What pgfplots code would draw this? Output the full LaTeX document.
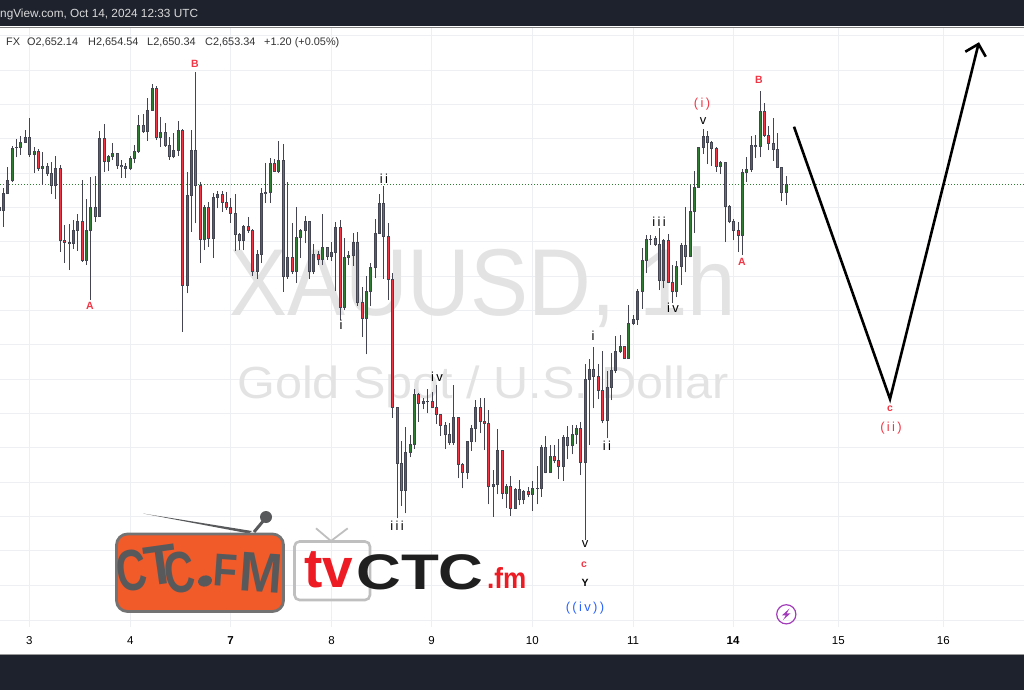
\documentclass[border=0pt]{standalone}
\usepackage{fontspec}
\setmainfont{Liberation Sans}
\newfontfamily\wavef[LetterSpace=18]{Liberation Sans}
\usepackage{pgfplots}
\usepackage{pgfplotstable}
\pgfplotsset{compat=1.18}
\definecolor{band}{HTML}{1E222D}
\definecolor{gridc}{HTML}{EEEFF2}
\definecolor{wick}{HTML}{434651}
\definecolor{upc}{HTML}{2E7D32}
\definecolor{downc}{HTML}{F23645}
\definecolor{wave}{HTML}{E3E3E3}
\definecolor{orangeL}{HTML}{F15A29}
\definecolor{logoG}{HTML}{58595B}
\definecolor{tvred}{HTML}{ED1C24}
\definecolor{boltc}{HTML}{A23CBA}
\definecolor{bluew}{HTML}{2962FF}

% i, body top, body bottom, high, low (pixel rows), d=1 up candle
\pgfplotstableread{
i top bot hi lo d
0 207.7 210.7 205 212 1
1 193.3 210.7 188.3 226.7 1
2 180.3 193.7 167.3 194 1
3 148.3 181 146 182.3 1
4 147.3 147.7 139.3 157.3 1
5 142.3 147.7 136 154.7 1
6 137.3 142.7 130 142.7 1
7 137.3 154.7 118 156.7 0
8 151.3 154.7 146.7 172.7 1
9 151.3 168.7 148.7 170.7 0
10 166.3 168.7 152 184.7 1
11 166.3 174 163.3 175.7 0
12 173.3 185.7 162 194 0
13 168.3 185.7 156 198.7 1
14 168.3 240.7 165 251.7 0
15 240.3 242.3 225 262.7 0
16 242.3 243.7 224.3 270 1
17 230.3 243.7 220 248.7 1
18 221.3 230.7 214 250.7 1
19 221.3 260.7 180 261.7 0
20 230.3 260.7 199.3 265 1
21 207.3 230.7 177.3 300 1
22 207.3 216.7 176 222 0
23 138.3 216.7 131 216.7 1
24 138.3 161.7 124 171.7 0
25 156.3 161.7 155 171 1
26 153.3 156.7 143.3 160 1
27 153.3 166 153.3 168.7 0
28 165.3 166.7 160 177.7 0
29 166.3 168.7 162.7 177.7 0
30 158.3 168.7 156 170 1
31 151.3 158.7 145 163.3 1
32 125.3 151.7 115.3 152.7 1
33 125.3 132 114.3 132.7 0
34 110.3 132 98 140.7 1
35 88.3 110.7 84.3 110.7 1
36 88.3 137.7 86 140 0
37 132.3 137.7 116.7 146.7 1
38 132.3 145.7 123.3 146.7 0
39 145.3 156.7 137.3 159.7 0
40 150.3 156.7 133.3 158.3 1
41 130.3 150.3 121.3 156 1
42 130.3 285.3 129.3 331.7 0
43 195.3 285.3 171.7 293.3 1
44 150.3 195.3 130 231.7 1
45 150.3 185.3 72 223.3 0
46 185.3 239.3 181.7 262.7 0
47 207.3 240 205 250 1
48 207.3 238.7 201.7 246.7 0
49 197.3 238.7 193.3 258 1
50 194.3 197.7 191 208.3 1
51 194.3 202.3 190.7 211.7 0
52 202.3 207.7 191.7 210 0
53 207.3 213.3 198 222.7 0
54 213.3 234.3 194 250.7 0
55 234.3 240.7 233.3 250 0
56 226 240.7 225 250 1
57 226 230.3 216.7 232.7 0
58 230.3 271.7 229.3 276 0
59 254.3 271.7 250 278.7 1
60 193.3 254.7 188.3 262.7 1
61 192 193.3 162.7 202.7 1
62 163.3 192.7 158 202.7 1
63 163.3 171.3 159.3 171.7 0
64 160.3 171.7 141 172.7 1
65 160.3 276.7 144 291.7 0
66 257 276.7 182.3 278.7 1
67 257 271.7 223.3 274 0
68 237.3 271.7 207.3 282.7 1
69 230.3 237.7 229 257.7 1
70 221.3 230.3 216 243.3 1
71 221.3 271.7 221.3 278.7 0
72 254.3 271.7 244.3 274 1
73 254.3 259.7 250.7 265 0
74 247.3 259.7 214 265 1
75 247.3 256.7 246.7 260 0
76 252.3 256.7 241.7 260.7 1
77 227.3 252.3 221.7 290.7 1
78 227.3 307.3 220 320 0
79 257 307.3 238.3 310 1
80 255.3 257.7 251.3 265 1
81 242.3 255.7 233.3 265.7 1
82 242.3 302.7 231.7 305.7 0
83 302.3 318.3 287.3 336.7 0
84 291.3 318.7 276 354.3 1
85 267.3 291.7 262.7 306 1
86 233.3 267.7 219.3 278 1
87 203.3 233.7 194 234 1
88 203.3 236.7 186 278.7 0
89 236.3 279.3 223.3 300 0
90 279.3 407.7 273.3 417.7 0
91 407 463.3 406.7 518.3 0
92 463.3 490.3 441 505.7 0
93 452.3 490.3 427.3 513.3 1
94 444.3 452.3 435 457.3 1
95 394.3 444.7 389 448.7 1
96 394.3 403.7 392.7 421.7 0
97 401 403.7 398.3 409.3 1
98 401.3 402 389 413.3 1
99 401 407.3 392.3 408.3 0
100 407.3 414.3 385 424 0
101 414.3 425.3 414 435.7 0
102 425 434.7 421.7 448.7 0
103 434.3 442.7 423.3 444.7 0
104 417.3 442.7 385 445 1
105 417.3 464.3 417.3 478.3 0
106 464.3 472.7 463.3 488.3 0
107 441.3 472.7 440.7 479.3 1
108 428.3 441.7 425 450.7 1
109 407.3 428.7 400 442.3 1
110 407.3 421.7 397.7 433.3 0
111 421.3 423.3 398.3 450 0
112 423.3 486.7 410 504.3 0
113 484.3 486.7 470 516.7 1
114 450.3 484.7 429.3 494.3 1
115 450.3 493.3 450 499.3 0
116 486 493.7 484 507.7 1
117 486.3 508.3 476 515.7 0
118 489 508.3 488.3 508.3 1
119 489.3 499.7 480 505.3 0
120 491 499.7 490 504.3 1
121 491.3 494.7 487.3 497.3 0
122 488 494.7 480.7 510.7 1
123 488 488.3 466 504.3 1
124 447.3 489 445.3 496.7 1
125 447.3 472.7 436.3 473.3 0
126 456.3 472.7 445 472.7 1
127 456.3 460.7 445 463.3 0
128 460.7 466.7 439 479 0
129 437.3 466.7 435 480.7 1
130 437.3 446 426 459.3 0
131 434.3 446 425 454.3 1
132 428.3 434.7 425 444 1
133 428.3 462.7 421.7 475 0
134 379.3 462.7 364 540 1
135 369.3 379.7 359 445 1
136 369.3 376.7 347 408.3 0
137 376.7 390.7 364 399.3 0
138 390.7 421 351 423.3 0
139 387.3 421 370.7 438.3 1
140 370.3 387.7 353 400 1
141 351.3 371 336 373.3 1
142 346 352 335 353 1
143 346 358.7 346 359 0
144 323.3 358.7 305 359 1
145 319.3 323.7 315 325 1
146 291 319.7 289.3 325 1
147 260.3 291.3 248.3 308.7 1
148 239.3 260.3 235 272.7 1
149 239.3 240 235 245 1
150 238.3 244.3 235.7 245.7 0
151 244.3 280.7 228 290 0
152 240.3 280.7 239 288.3 1
153 240.3 282.3 234 283.3 0
154 282.3 291.7 265 302.7 0
155 266.3 291.7 261 297.3 1
156 245 266.3 243.3 285 1
157 245 256.7 207 272.3 0
158 211.3 256.7 185 257.3 1
159 187.3 211.7 171 232.7 1
160 147.3 187.3 147 187.5 1
161 136 147.7 129.3 154 1
162 136 142.7 131 164 0
163 142 148.7 140.7 166 0
164 148.3 166.7 147.3 171.7 0
165 162.3 166.7 160.7 174 1
166 162.3 206.3 161.7 242 0
167 206.3 221.7 205 223.3 0
168 221.3 230.7 219.3 240 0
169 230.3 235.7 222 252 0
170 172.3 235.7 169 255 1
171 169.3 172.7 157.3 181.7 1
172 145.3 169.7 136 171.7 1
173 145.3 146.7 135 158.3 1
174 111.3 146.7 91 157.3 1
175 111.3 135.3 103.3 136.7 0
176 135.3 143.3 125.7 150 0
177 143.3 149.3 118.3 160.7 0
178 149.3 167.3 133.3 167.7 0
179 167.3 192.3 167.3 201 0
180 184.3 192.7 176 204.7 1
}\candles

\newcommand{\fs}[1]{\fontsize{#1}{#1}\selectfont}
\tikzset{
  wv/.style={font=\fs{13}\wavef, text=black, inner sep=0pt},
  wvr/.style={font=\fs{13}\wavef, text=downc, inner sep=0pt},
  ltr/.style={font=\fs{10.5}\bfseries, text=downc, inner sep=0pt},
  hd/.style={anchor=base west, inner sep=0pt, font=\fs{10.9}, text=black!80},
  lg/.style={inner sep=0pt, text=logoG, font=\fs{#1}\bfseries},
  vgrid/.style={gridc, line width=0.9pt},
}
\pgfplotsset{
  wickbars/.style={draw=none, mark=none, forget plot,
    error bars/.cd, y dir=both, y explicit, error mark=none,
    error bar style={solid, line width=#1}},
}
\newcommand{\xpos}{floor(3.4+4.374*(\thisrow{i}-1))+0.5}

\begin{document}
\begin{tikzpicture}
\begin{axis}[
  name=ax,
  scale only axis, width=1024pt, height=690pt,
  xmin=0, xmax=1024, ymin=0, ymax=690, y dir=reverse,
  axis line style={draw=none}, tick style={draw=none},
  ymajorgrids, grid style={gridc, line width=0.9pt},
  xtick={29.3,130.3,230.5,331.5,431.5,532.3,633,733,838.3,943.3},
  xticklabels={3,4,\textbf{7},8,9,10,11,\textbf{14},15,16},
  xticklabel pos=upper,
  xticklabel style={anchor=center, yshift=-641pt, font=\fs{11.5}, text=black},
  ytick={35.6,70,104.3,138.7,173,207.3,241.7,276,310.4,344.7,379,413.4,447.8,482.1,516.5,550.9,585.6,620},
  yticklabels={},
]
% day grid stops above the time scale
\draw[vgrid] (axis cs:29.3,27) -- (axis cs:29.3,627);
\draw[vgrid] (axis cs:130.3,27) -- (axis cs:130.3,627);
\draw[vgrid] (axis cs:230.5,27) -- (axis cs:230.5,627);
\draw[vgrid] (axis cs:331.5,27) -- (axis cs:331.5,627);
\draw[vgrid] (axis cs:431.5,27) -- (axis cs:431.5,627);
\draw[vgrid] (axis cs:532.3,27) -- (axis cs:532.3,627);
\draw[vgrid] (axis cs:633,27) -- (axis cs:633,627);
\draw[vgrid] (axis cs:733,27) -- (axis cs:733,627);
\draw[vgrid] (axis cs:838.3,27) -- (axis cs:838.3,627);
\draw[vgrid] (axis cs:943.3,27) -- (axis cs:943.3,627);

% watermark
\node[anchor=base west, inner sep=0pt, text=wave, font=\fs{95}, xscale=0.915] at (axis cs:229,315) {XAUUSD, 1h};
\node[anchor=base west, inner sep=0pt, text=wave, font=\fs{45}, xscale=1.08] at (axis cs:237,398) {Gold Spot / U.S. Dollar};

% frame bands
\fill[band] (axis cs:0,0) rectangle (axis cs:1024,26.5);
\fill[band] (axis cs:0,655) rectangle (axis cs:1024,690);
\draw[gray, line width=0.8pt] (axis cs:0,27) -- (axis cs:1024,27);
\draw[gray!80, line width=1pt] (axis cs:0,654.6) -- (axis cs:1024,654.6);

% last price line
\addplot[upc, line width=1pt, dash pattern=on 1pt off 2pt, forget plot] coordinates {(0,184.5) (1024,184.5)};

% candles: wick, then body outline, then the fill by direction
\addplot[wickbars={1pt, wick}] table[x expr=\xpos, y=lo, y error plus expr=0, y error minus expr={\thisrow{lo}-\thisrow{hi}}] {\candles};
\addplot[wickbars={3.5pt, wick}] table[x expr=\xpos, y expr=\thisrow{bot}+0.3, y error plus expr=0, y error minus expr={\thisrow{bot}-\thisrow{top}+0.6}] {\candles};
\addplot[wickbars={1.9pt, upc}] table[x expr=\xpos, y expr=\thisrow{bot}-0.6, y error plus expr=0, y error minus expr={\thisrow{d}*max(0,\thisrow{bot}-\thisrow{top}-1.2)}] {\candles};
\addplot[wickbars={1.9pt, downc}] table[x expr=\xpos, y expr=\thisrow{bot}-0.6, y error plus expr=0, y error minus expr={(1-\thisrow{d})*max(0,\thisrow{bot}-\thisrow{top}-1.2)}] {\candles};

% projected path
\addplot[black, line width=2.6pt, line join=miter, forget plot] coordinates {(794,126.7) (890,399) (978.5,44)};
\addplot[black, line width=2.6pt, line join=miter, forget plot] coordinates {(965.3,51.7) (978.5,44) (985.7,56.7)};

% wave labels
\node[ltr] at (axis cs:90,306) {A};
\node[ltr] at (axis cs:195,64) {B};
\node[ltr] at (axis cs:759,80) {B};
\node[ltr] at (axis cs:742,262) {A};
\node[ltr] at (axis cs:584,565) {c};
\node[ltr] at (axis cs:890,409) {c};
\node[wv] at (axis cs:341,325) {i};
\node[wv] at (axis cs:384,179) {ii};
\node[wv] at (axis cs:397,526) {iii};
\node[wv] at (axis cs:437,377) {iv};
\node[wv] at (axis cs:659,222) {iii};
\node[wv] at (axis cs:673,308) {iv};
\node[wv] at (axis cs:593,336) {i};
\node[wv] at (axis cs:607,446) {ii};
\node[wv] at (axis cs:703,121) {v};
\node[wv] at (axis cs:585,544) {v};
\node[wvr] at (axis cs:702,104) {(i)};
\node[wvr] at (axis cs:891,428) {(ii)};
\node[inner sep=0pt, font=\fs{10.5}\bfseries, text=black] at (axis cs:585,583) {Y};
\node[wv, text=bluew] at (axis cs:585,608) {((iv))};

% header and legend text
\node[anchor=base west, inner sep=0pt, font=\fs{11.8}, text=black!15] at (axis cs:0,18) {ngView.com, Oct 14, 2024 12:33 UTC};
\node[hd] at (axis cs:6,46) {FX};
\node[hd] at (axis cs:27,46) {O2,652.14};
\node[hd] at (axis cs:88,46) {H2,654.54};
\node[hd] at (axis cs:147,46) {L2,650.34};
\node[hd] at (axis cs:205,46) {C2,653.34};
\node[hd] at (axis cs:264,46) {+1.20 (+0.05\%)};

% logo left
\fill[logoG] (axis cs:143,513.5) -- (axis cs:252,531) -- (axis cs:249,533.5) -- cycle;
\draw[logoG, line width=3pt] (axis cs:254,532) -- (axis cs:264,520);
\fill[logoG] (axis cs:266,517) circle[radius=6pt];
\draw[draw=gray!90!black, fill=orangeL, line width=2.8pt, rounded corners=11pt] (axis cs:116.5,534) rectangle (axis cs:283.5,611.5);
\node[lg=58, rotate=8, xscale=0.72] at (axis cs:132,571) {C};
\node[lg=56, rotate=8, xscale=0.95] at (axis cs:161,565) {T};
\node[lg=58, rotate=8, xscale=0.72] at (axis cs:180,573) {C};
\fill[logoG, rotate around={15:(axis cs:205,581)}] (axis cs:205,581) ellipse[x radius=7pt, y radius=5.5pt];
\node[lg=46, rotate=-4, xscale=0.85] at (axis cs:226,571) {F};
\node[lg=56, rotate=-4, xscale=0.92] at (axis cs:261,573) {M};

% logo right
\draw[gray!50, line width=2.6pt, rounded corners=5pt] (axis cs:294.5,541.5) rectangle (axis cs:370,600);
\draw[gray!50, line width=1.8pt] (axis cs:316,528.3) -- (axis cs:331,541) -- (axis cs:347.7,528.3);
\node[anchor=base west, inner sep=0pt, text=tvred, font=\fs{55}\bfseries] at (axis cs:304,587.5) {tv};
\node[anchor=base west, inner sep=0pt, text=black!88, font=\fs{50}\bfseries, xscale=1.24] at (axis cs:356,589) {CTC};
\node[anchor=base west, inner sep=0pt, text=tvred, font=\fs{29}\bfseries, xscale=0.9] at (axis cs:487,588) {.fm};

% bolt badge
\draw[boltc, line width=1.2pt] (axis cs:786.3,614.3) circle[radius=9.6pt];
\fill[boltc] (axis cs:789.5,608.5) -- (axis cs:782,615.3) -- (axis cs:785.8,615.3) -- (axis cs:783,620) -- (axis cs:790.5,613.3) -- (axis cs:786.7,613.3) -- cycle;
\end{axis}
\pgfresetboundingbox
\path[use as bounding box] (ax.south west) rectangle (ax.north east);
\end{tikzpicture}
\end{document}
